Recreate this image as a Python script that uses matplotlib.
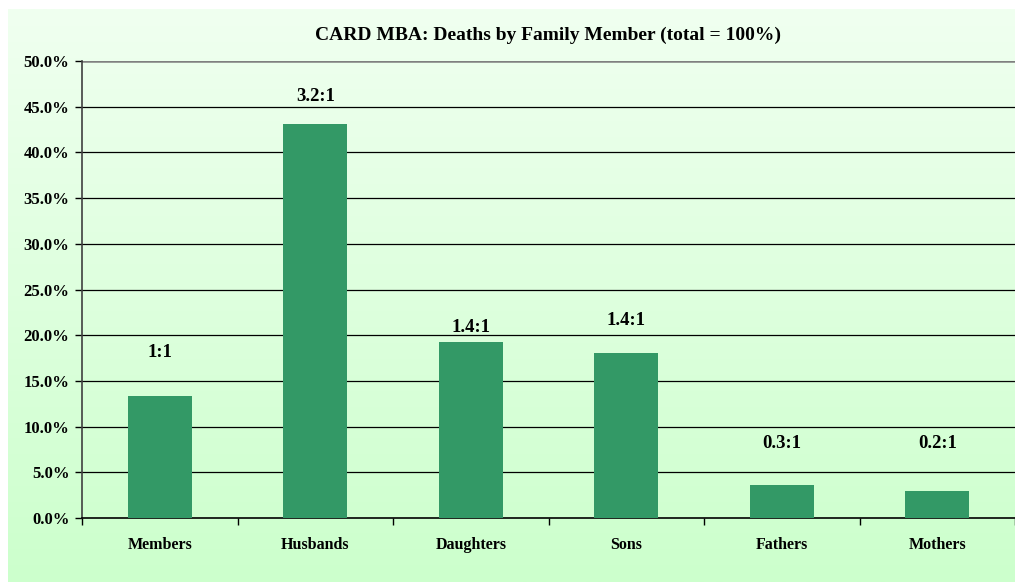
import matplotlib.pyplot as plt
import numpy as np
from matplotlib.colors import LinearSegmentedColormap
from matplotlib.ticker import FuncFormatter, FixedLocator

members = ["Members", "Husbands", "Daughters", "Sons", "Fathers", "Mothers"]
share = [13.4, 43.1, 19.3, 18.1, 3.6, 3.0]
ratios = ["1:1", "3.2:1", "1.4:1", "1.4:1", "0.3:1", "0.2:1"]
ratio_y = [18.1, 46.1, 20.8, 21.6, 8.1, 8.1]

plt.rcParams['font.family'] = ['Liberation Serif', 'DejaVu Serif']
plt.rcParams['font.weight'] = 'bold'

fig = plt.figure(figsize=(10.15, 5.82), dpi=100)

# gradient panel behind the chart
bg = fig.add_axes([8 / 1015, 0, 1 - 8 / 1015, 1 - 9 / 582], zorder=-1)
cmap = LinearSegmentedColormap.from_list("g", ["#CCFFCC", "#F0FFF0"])
bg.imshow(np.linspace(0, 1, 256).reshape(-1, 1), aspect="auto", cmap=cmap,
          origin="lower", extent=[0, 1, 0, 1])
bg.axis("off")

ax = fig.add_axes([82 / 1015, 1 - 518 / 582, 1 - 82 / 1015, 457 / 582])
ax.patch.set_alpha(0)

x = np.arange(len(members))
ax.bar(x, share, width=0.41, color="#339966", zorder=3)

for xi, lab, yy in zip(x, ratios, ratio_y):
    ax.text(xi, yy, lab, ha="center", va="center", fontsize=13.5, fontweight="bold")

ax.set_xlim(-0.5, len(members) - 0.5)
ax.set_ylim(0, 50)
ax.set_yticks(np.arange(0, 51, 5))
ax.yaxis.set_major_formatter(FuncFormatter(lambda v, p: f"{v:.1f}%"))
for v in np.arange(5, 50, 5):
    ax.axhline(v, color="black", lw=0.9, zorder=1)
ax.axhline(50, color="#808080", lw=1.8, zorder=1)

ax.set_xticks(x)
ax.set_xticklabels(members, fontsize=11.5, fontweight="bold")
ax.xaxis.set_minor_locator(FixedLocator(np.arange(-0.5, len(members), 1)))
ax.tick_params(axis="x", which="major", length=0, pad=14)
ax.tick_params(axis="x", which="minor", length=5, width=1, direction="out")
ax.tick_params(axis="y", length=5, width=1, direction="out", labelsize=12, pad=4)
for t in ax.get_yticklabels():
    t.set_fontweight("bold")

for s in ["top", "right"]:
    ax.spines[s].set_visible(False)
ax.spines["left"].set_color("#404040")
ax.spines["left"].set_linewidth(1.2)
ax.spines["bottom"].set_linewidth(1.2)

fig.text(548 / 1015, 1 - 35 / 582, "CARD MBA: Deaths by Family Member (total = 100%)",
         ha="center", va="center", fontsize=14, fontweight="bold")

fig.savefig("out.png", dpi=100)
